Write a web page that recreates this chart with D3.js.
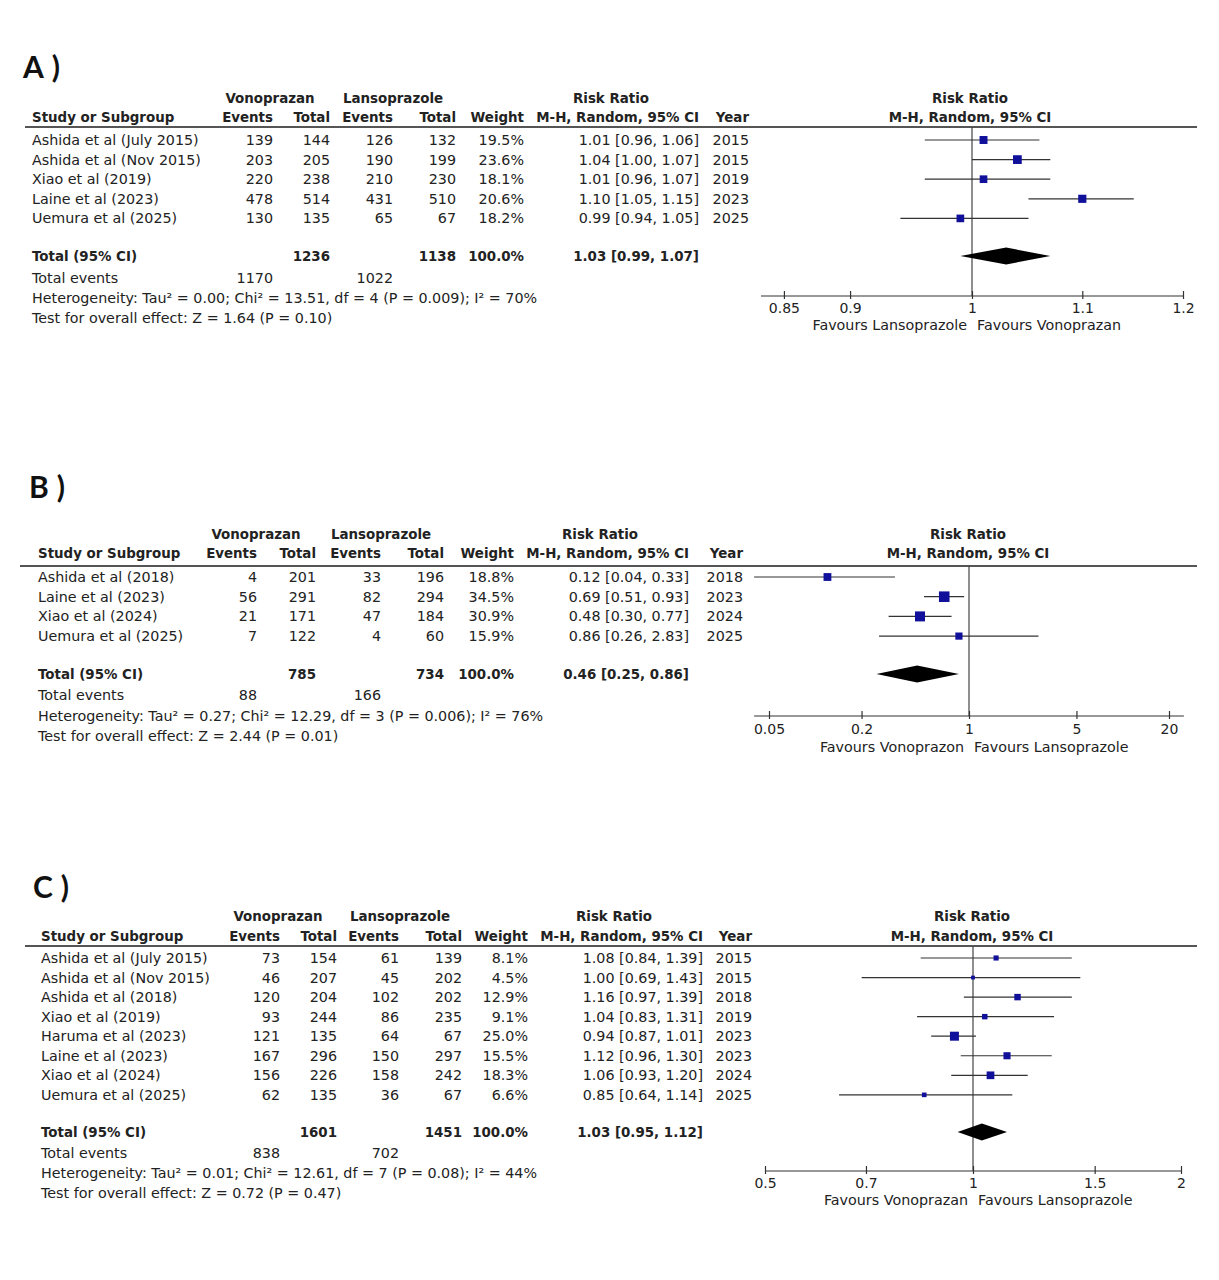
<!DOCTYPE html>
<html><head><meta charset="utf-8">
<script src="https://cdn.jsdelivr.net/npm/d3@7"></script>
<style>
body{margin:0;background:#fff}
svg{display:block}
text{font-family:"DejaVu Sans",sans-serif;fill:#222}
</style></head>
<body><svg id="c" width="1219" height="1280"></svg>
<script>
// ---------- DATA ----------
// Panel A
const studiesA = ["Ashida et al (July 2015)","Ashida et al (Nov 2015)","Xiao et al (2019)","Laine et al (2023)","Uemura et al (2025)"];
const vonoEventsA = [139,203,220,478,130];
const vonoTotalA  = [144,205,238,514,135];
const lansoEventsA = [126,190,210,431,65];
const lansoTotalA  = [132,199,230,510,67];
const weightA = [19.5,23.6,18.1,20.6,18.2];
const rrA  = [1.01,1.04,1.01,1.10,0.99];
const rrLoA = [0.96,1.00,0.96,1.05,0.94];
const rrHiA = [1.06,1.07,1.07,1.15,1.05];
const yearA = [2015,2015,2019,2023,2025];
const totalA = {vonoTotal:1236, lansoTotal:1138, vonoEvents:1170, lansoEvents:1022, rr:1.03, lo:0.99, hi:1.07};
const hetA = "Heterogeneity: Tau² = 0.00; Chi² = 13.51, df = 4 (P = 0.009); I² = 70%";
const testA = "Test for overall effect: Z = 1.64 (P = 0.10)";
const ticksA = [0.85,0.9,1,1.1,1.2];
const favoursA = ["Favours Lansoprazole","Favours Vonoprazan"];

// Panel B
const studiesB = ["Ashida et al (2018)","Laine et al (2023)","Xiao et al (2024)","Uemura et al (2025)"];
const vonoEventsB = [4,56,21,7];
const vonoTotalB  = [201,291,171,122];
const lansoEventsB = [33,82,47,4];
const lansoTotalB  = [196,294,184,60];
const weightB = [18.8,34.5,30.9,15.9];
const rrB  = [0.12,0.69,0.48,0.86];
const rrLoB = [0.04,0.51,0.30,0.26];
const rrHiB = [0.33,0.93,0.77,2.83];
const yearB = [2018,2023,2024,2025];
const totalB = {vonoTotal:785, lansoTotal:734, vonoEvents:88, lansoEvents:166, rr:0.46, lo:0.25, hi:0.86};
const hetB = "Heterogeneity: Tau² = 0.27; Chi² = 12.29, df = 3 (P = 0.006); I² = 76%";
const testB = "Test for overall effect: Z = 2.44 (P = 0.01)";
const ticksB = [0.05,0.2,1,5,20];
const favoursB = ["Favours Vonoprazon","Favours Lansoprazole"];

// Panel C
const studiesC = ["Ashida et al (July 2015)","Ashida et al (Nov 2015)","Ashida et al (2018)","Xiao et al (2019)","Haruma et al (2023)","Laine et al (2023)","Xiao et al (2024)","Uemura et al (2025)"];
const vonoEventsC = [73,46,120,93,121,167,156,62];
const vonoTotalC  = [154,207,204,244,135,296,226,135];
const lansoEventsC = [61,45,102,86,64,150,158,36];
const lansoTotalC  = [139,202,202,235,67,297,242,67];
const weightC = [8.1,4.5,12.9,9.1,25.0,15.5,18.3,6.6];
const rrC  = [1.08,1.00,1.16,1.04,0.94,1.12,1.06,0.85];
const rrLoC = [0.84,0.69,0.97,0.83,0.87,0.96,0.93,0.64];
const rrHiC = [1.39,1.43,1.39,1.31,1.01,1.30,1.20,1.14];
const yearC = [2015,2015,2018,2019,2023,2023,2024,2025];
const totalC = {vonoTotal:1601, lansoTotal:1451, vonoEvents:838, lansoEvents:702, rr:1.03, lo:0.95, hi:1.12};
const hetC = "Heterogeneity: Tau² = 0.01; Chi² = 12.61, df = 7 (P = 0.08); I² = 44%";
const testC = "Test for overall effect: Z = 0.72 (P = 0.47)";
const ticksC = [0.5,0.7,1,1.5,2];
const favoursC = ["Favours Vonoprazan","Favours Lansoprazole"];

// ---------- LAYOUT ----------
const panels = [
  {label:"A)", lx:23, ly:78,
   studies:studiesA, ve:vonoEventsA, vt:vonoTotalA, le:lansoEventsA, lt:lansoTotalA, w:weightA, rr:rrA, lo:rrLoA, hi:rrHiA, yr:yearA, tot:totalA, het:hetA, test:testA, ticks:ticksA, fav:favoursA,
   h1:98, h2:117, line:127, lineX:[25,1197], row0:140, step:19.6, totY:256, evY:278, hetY:298, testY:318,
   cols:{study:32, ve:273, vt:330, le:393, lt:456, w:524, rr:699, yr:749, von:270, lan:393, rrh:611, fc:970},
   dom:[1/1.2,1.2], rng:[761,1183], lineDom:[1/1.2,1.2], axisY:296, tickY:313, favY:330},
  {label:"B)", lx:29, ly:498,
   studies:studiesB, ve:vonoEventsB, vt:vonoTotalB, le:lansoEventsB, lt:lansoTotalB, w:weightB, rr:rrB, lo:rrLoB, hi:rrHiB, yr:yearB, tot:totalB, het:hetB, test:testB, ticks:ticksB, fav:favoursB,
   h1:534, h2:553, line:566, lineX:[20,1197], row0:577, step:19.7, totY:674, evY:695, hetY:716, testY:736,
   cols:{study:38, ve:257, vt:316, le:381, lt:444, w:514, rr:689, yr:743, von:256, lan:381, rrh:600, fc:968},
   dom:[0.05,20], rng:[769,1169], lineDom:[0.04,25], axisY:716, tickY:734, favY:752},
  {label:"C)", lx:33, ly:898,
   studies:studiesC, ve:vonoEventsC, vt:vonoTotalC, le:lansoEventsC, lt:lansoTotalC, w:weightC, rr:rrC, lo:rrLoC, hi:rrHiC, yr:yearC, tot:totalC, het:hetC, test:testC, ticks:ticksC, fav:favoursC,
   h1:916, h2:936, line:946, lineX:[25,1197], row0:958, step:19.55, totY:1132, evY:1153, hetY:1173, testY:1193,
   cols:{study:41, ve:280, vt:337, le:399, lt:462, w:528, rr:703, yr:752, von:278, lan:400, rrh:614, fc:972},
   dom:[0.5,2], rng:[765,1181], lineDom:[0.5,2], axisY:1171, tickY:1188, favY:1205}
];

const svg = d3.select("#c");
const fmt2 = d3.format(".2f");
const rrText = (r,l,h) => `${fmt2(r)} [${fmt2(l)}, ${fmt2(h)}]`;

panels.forEach(p => {
  const g = svg.append("g");
  const c = p.cols;
  const txt = (x, y, s, anchor="start", bold=false, size=null) => {
    const t = g.append("text").attr("x", x).attr("y", y + 5).text(s)
      .attr("text-anchor", anchor)
      .style("font-size", (size || (bold ? 13.4 : 14.3)) + "px");
    if (bold) t.style("font-weight", "bold");
    return t;
  };

  // panel label
  g.append("text").attr("x", p.lx).attr("y", p.ly).text(p.label)
    .style("font-family", "Lato, 'Open Sans', sans-serif").style("font-size", "30px")
    .style("font-weight", "bold").style("letter-spacing", "8px").style("fill", "#111");

  // headers
  txt(c.von, p.h1, "Vonoprazan", "middle", true);
  txt(c.lan, p.h1, "Lansoprazole", "middle", true);
  txt(c.rrh, p.h1, "Risk Ratio", "middle", true);
  txt(c.fc, p.h1, "Risk Ratio", "middle", true);
  txt(c.study, p.h2, "Study or Subgroup", "start", true);
  txt(c.ve, p.h2, "Events", "end", true);
  txt(c.vt, p.h2, "Total", "end", true);
  txt(c.le, p.h2, "Events", "end", true);
  txt(c.lt, p.h2, "Total", "end", true);
  txt(c.w, p.h2, "Weight", "end", true);
  txt(c.rr, p.h2, "M-H, Random, 95% CI", "end", true);
  txt(c.yr, p.h2, "Year", "end", true);
  txt(c.fc, p.h2, "M-H, Random, 95% CI", "middle", true);

  g.append("line").attr("x1", p.lineX[0]).attr("x2", p.lineX[1])
    .attr("y1", p.line).attr("y2", p.line).attr("stroke", "#555").attr("stroke-width", 2);

  // scales
  const y = d3.scaleLinear().domain([0, 1]).range([p.row0, p.row0 + p.step]);
  const x = d3.scaleLog().domain(p.dom).range(p.rng);

  // rows
  p.studies.forEach((s, i) => {
    const yy = y(i);
    txt(c.study, yy, s);
    txt(c.ve, yy, p.ve[i], "end");
    txt(c.vt, yy, p.vt[i], "end");
    txt(c.le, yy, p.le[i], "end");
    txt(c.lt, yy, p.lt[i], "end");
    txt(c.w, yy, p.w[i].toFixed(1) + "%", "end");
    txt(c.rr, yy, rrText(p.rr[i], p.lo[i], p.hi[i]), "end");
    txt(c.yr, yy, p.yr[i], "end");
  });

  // total rows
  txt(c.study, p.totY, "Total (95% CI)", "start", true);
  txt(c.vt, p.totY, p.tot.vonoTotal, "end", true);
  txt(c.lt, p.totY, p.tot.lansoTotal, "end", true);
  txt(c.w, p.totY, "100.0%", "end", true);
  txt(c.rr, p.totY, rrText(p.tot.rr, p.tot.lo, p.tot.hi), "end", true);
  txt(c.study, p.evY, "Total events");
  txt(c.ve, p.evY, p.tot.vonoEvents, "end");
  txt(c.le, p.evY, p.tot.lansoEvents, "end");
  txt(c.study, p.hetY, p.het);
  txt(c.study, p.testY, p.test);

  // vertical no-effect line
  g.append("line").attr("x1", x(1)).attr("x2", x(1))
    .attr("y1", p.line).attr("y2", p.axisY).attr("stroke", "#444").attr("stroke-width", 1.2);

  // CI lines + squares
  const sq = d3.scaleSqrt().domain([0, 100]).range([0, 18]);
  p.studies.forEach((s, i) => {
    const yy = y(i);
    g.append("line").attr("x1", x(p.lo[i])).attr("x2", x(p.hi[i]))
      .attr("y1", yy).attr("y2", yy).attr("stroke", "#333").attr("stroke-width", 1.2);
    const sz = Math.max(3, sq(p.w[i]));
    g.append("rect").attr("x", x(p.rr[i]) - sz / 2).attr("y", yy - sz / 2)
      .attr("width", sz).attr("height", sz).attr("fill", "#10109a");
  });

  // diamond
  const dh = 8.5, ty = p.totY;
  g.append("path")
    .attr("d", `M${x(p.tot.lo)},${ty} L${x(p.tot.rr)},${ty - dh} L${x(p.tot.hi)},${ty} L${x(p.tot.rr)},${ty + dh} Z`)
    .attr("fill", "#000");

  // axis
  g.append("line").attr("x1", x(p.lineDom[0])).attr("x2", x(p.lineDom[1]))
    .attr("y1", p.axisY).attr("y2", p.axisY).attr("stroke", "#333").attr("stroke-width", 1.2);
  const ax = g.append("g").attr("transform", `translate(0,${p.axisY})`)
    .call(d3.axisBottom(x).tickValues(p.ticks).tickFormat(d => String(d)).tickSizeOuter(0).tickSizeInner(3).tickPadding(4));
  ax.select(".domain").remove();
  ax.selectAll(".tick line").attr("y1", -5).attr("y2", 3).attr("stroke", "#333").attr("stroke-width", 1.2);
  ax.selectAll(".tick text").attr("dy", null)
    .attr("y", p.tickY - p.axisY)
    .style("font-family", "'DejaVu Sans',sans-serif").style("font-size", "14px").attr("fill", "#333");

  // favours
  txt(x(1) - 5, p.favY - 5, p.fav[0], "end", false, 14.3);
  txt(x(1) + 5, p.favY - 5, p.fav[1], "start", false, 14.3);
});
</script></body></html>
